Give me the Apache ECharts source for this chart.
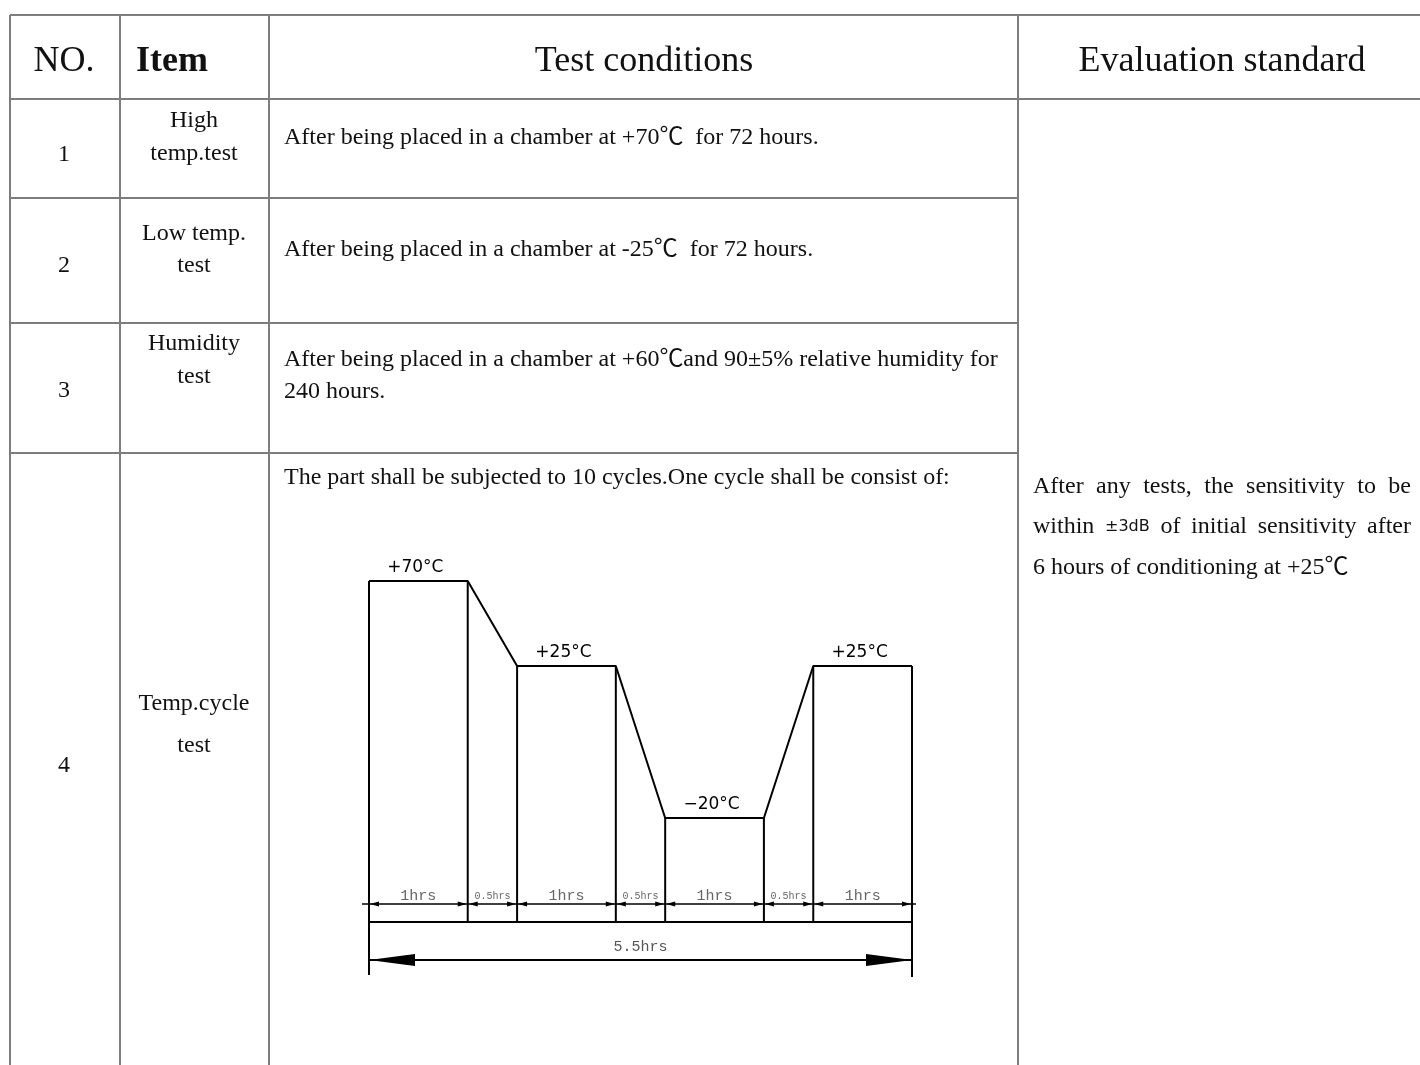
<!DOCTYPE html>
<html><head><meta charset="utf-8">
<script src="https://cdn.jsdelivr.net/npm/echarts@6/dist/echarts.min.js"></script>
<style>html,body{margin:0;padding:0;background:#fff}#c{width:1420px;height:1065px}</style>
</head><body><div id="c"></div>
<script>
// ---------- table content ----------
const headers = ['NO.', 'Item', 'Test conditions', 'Evaluation standard'];
const rowNumbers = ['1', '2', '3', '4'];
const itemNames = [['High', 'temp.test'], ['Low temp.', 'test'], ['Humidity', 'test'], ['Temp.cycle', 'test']];
const conditionTexts = [
  ['After being placed in a chamber at +70℃  for 72 hours.'],
  ['After being placed in a chamber at -25℃  for 72 hours.'],
  ['After being placed in a chamber at +60℃and 90±5% relative humidity for', '240 hours.'],
  ['The part shall be subjected to 10 cycles.One cycle shall be consist of:']
];
const evaluationLines = ['After any tests, the sensitivity to be', 'within ±3dB of initial sensitivity after', '6 hours of conditioning at +25℃'];

// ---------- temperature cycle diagram (schematic) ----------
const profileHours = [0, 1, 1.5, 2.5, 3, 4, 4.5, 5.5];
const profileLevel = [3.41, 3.41, 2.56, 2.56, 1.04, 1.04, 2.56, 2.56];
const plateauLabels = ['+70°C', '+25°C', '−20°C', '+25°C'];
const segmentLabels = ['1hrs', '0.5hrs', '1hrs', '0.5hrs', '1hrs', '0.5hrs', '1hrs'];
const totalLabel = '5.5hrs';

// ---------- layout / style ----------
const SERIF = '"Liberation Serif", "Times New Roman", "Noto Sans CJK SC", serif';
const BODY = '24px ' + SERIF;
const HEAD = '36px ' + SERIF;
const SANS_SMALL = '16px "DejaVu Sans", sans-serif';
const LINE_C = '#7d7d7d';
const colX = [10, 120, 269, 1018, 1420];
const rowY = [15, 99, 198, 323, 453, 1065];
const DY = 2;

const g = [];
function hline(y, x0, x1) { g.push({ type: 'line', silent: true, shape: { x1: x0, y1: y, x2: x1, y2: y }, style: { stroke: LINE_C, lineWidth: 2 } }); }
function vline(x, y0, y1) { g.push({ type: 'line', silent: true, shape: { x1: x, y1: y0, x2: x, y2: y1 }, style: { stroke: LINE_C, lineWidth: 2 } }); }
function txt(t, x, y, font, align) {
  g.push({ type: 'text', silent: true, style: { text: t, x: x, y: y + DY, font: font, fill: '#111', textAlign: align || 'left', align: align || 'left', textVerticalAlign: 'middle', verticalAlign: 'middle' } });
}
// grid lines
hline(rowY[0], colX[0], colX[4]);
hline(rowY[1], colX[0], colX[4]);
for (let i = 2; i <= 4; i++) hline(rowY[i], colX[0], colX[3]);
for (let i = 0; i <= 3; i++) vline(colX[i], rowY[0], rowY[5]);

// headers
txt(headers[0], 64, 60, HEAD, 'center');
txt(headers[1], 136, 60, 'bold ' + HEAD, 'left');
txt(headers[2], 644, 60, HEAD, 'center');
txt(headers[3], 1222, 60, HEAD, 'center');

const numY = [153, 264, 389, 764];
const itemY = [[119, 152], [232, 264], [342, 375], [702, 744]];
const condY = [[136], [248], [358, 390], [476]];
rowNumbers.forEach((n, i) => txt(n, 64, numY[i], BODY, 'center'));
itemNames.forEach((lines, i) => lines.forEach((l, j) => txt(l, 194, itemY[i][j], BODY, 'center')));
conditionTexts.forEach((lines, i) => lines.forEach((l, j) => txt(l, 284, condY[i][j], BODY, 'left')));

// evaluation standard: justified lines
const meas = document.createElement('canvas').getContext('2d');
const fontOf = w => (w.indexOf('±') >= 0 ? SANS_SMALL : BODY);
const evalY = [485, 525, 566];
const evalL = 1033, evalR = 1411;
evaluationLines.forEach((line, i) => {
  if (i === evaluationLines.length - 1) { txt(line, evalL, evalY[i], BODY, 'left'); return; }
  const words = line.split(' ');
  const widths = words.map(w => { meas.font = fontOf(w); return meas.measureText(w).width; });
  const total = widths.reduce((a, b) => a + b, 0);
  const gap = (evalR - evalL - total) / (words.length - 1);
  let x = evalL;
  words.forEach((w, k) => { txt(w, x, evalY[i], fontOf(w), 'left'); x += widths[k] + gap; });
});

// ---------- diagram series ----------
const plateaus = [];
let pk = 0;
for (let i = 0; i < profileHours.length - 1; i++) {
  if (profileLevel[i] === profileLevel[i + 1]) plateaus.push([profileHours[i], profileHours[i + 1], profileLevel[i], pk++]);
}
const segments = [];
for (let i = 0; i < profileHours.length - 1; i++) segments.push([profileHours[i], profileHours[i + 1], i]);

function seg(a, b, w, c) { return { type: 'line', shape: { x1: a[0], y1: a[1], x2: b[0], y2: b[1] }, style: { stroke: c || '#000', lineWidth: w || 2 } }; }
function poly(pts) { return { type: 'polygon', shape: { points: pts }, style: { fill: '#000' } }; }
function label(t, x, y, font, color) {
  return { type: 'text', style: { text: t, x: x, y: y, font: font, fill: color || '#000', textAlign: 'center', align: 'center', textVerticalAlign: 'middle', verticalAlign: 'middle' } };
}

const option = {
  animation: false,
  graphic: { elements: g },
  grid: { left: 369, width: 543, top: 522, height: 400 },
  xAxis: { type: 'value', min: 0, max: 5.5, show: false },
  yAxis: { type: 'value', min: 0, max: 4, show: false },
  series: [
    {
      type: 'line', silent: true, symbol: 'none',
      data: profileHours.map((h, i) => [h, profileLevel[i]]),
      lineStyle: { color: '#000', width: 2 }
    },
    {
      type: 'custom', silent: true,
      encode: { x: [0, 1], y: 2 },
      data: plateaus,
      renderItem: (params, api) => {
        const x0 = api.value(0), x1 = api.value(1), lv = api.value(2), k = api.value(3);
        const a = api.coord([x0, lv]), b = api.coord([x1, lv]);
        const a0 = api.coord([x0, 0]), b0 = api.coord([x1, 0]);
        return { type: 'group', children: [
          seg(a, a0), seg(b, b0),
          label(plateauLabels[k], (a[0] + b[0]) / 2 - 3, a[1] - 13, '17px "DejaVu Sans", sans-serif')
        ] };
      }
    },
    {
      type: 'custom', silent: true,
      encode: { x: [0, 1] },
      data: segments,
      renderItem: (params, api) => {
        const x0 = api.value(0), x1 = api.value(1), idx = api.value(2);
        const a = api.coord([x0, 0]), b = api.coord([x1, 0]);
        const y = a[1] - 18;
        const L = 9, H = 2.5;
        const small = segmentLabels[idx].length > 4;
        return { type: 'group', children: [
          poly([[a[0] + 1, y], [a[0] + 1 + L, y - H], [a[0] + 1 + L, y + H]]),
          poly([[b[0] - 1, y], [b[0] - 1 - L, y - H], [b[0] - 1 - L, y + H]]),
          label(segmentLabels[idx], (a[0] + b[0]) / 2, y - 8,
            small ? '10px "Liberation Mono", monospace' : '15px "Liberation Mono", monospace', '#666')
        ] };
      }
    },
    {
      type: 'custom', silent: true,
      encode: { x: [0, 1] },
      data: [[0, profileHours[profileHours.length - 1]]],
      renderItem: (params, api) => {
        const a = api.coord([api.value(0), 0]), b = api.coord([api.value(1), 0]);
        const yd = a[1] - 18, yt = a[1] + 38;
        return { type: 'group', children: [
          seg(a, b),
          seg([a[0] - 7, yd], [b[0] + 4, yd], 1.5),
          seg(a, [a[0], a[1] + 53]),
          seg(b, [b[0], b[1] + 55]),
          seg([a[0], yt], [b[0], yt], 2),
          poly([[a[0], yt], [a[0] + 46, yt - 6], [a[0] + 46, yt + 6]]),
          poly([[b[0], yt], [b[0] - 46, yt - 6], [b[0] - 46, yt + 6]]),
          label(totalLabel, (a[0] + b[0]) / 2, a[1] + 25, '15px "Liberation Mono", monospace', '#555')
        ] };
      }
    }
  ]
};
echarts.init(document.getElementById('c')).setOption(option);
</script>
</body></html>
